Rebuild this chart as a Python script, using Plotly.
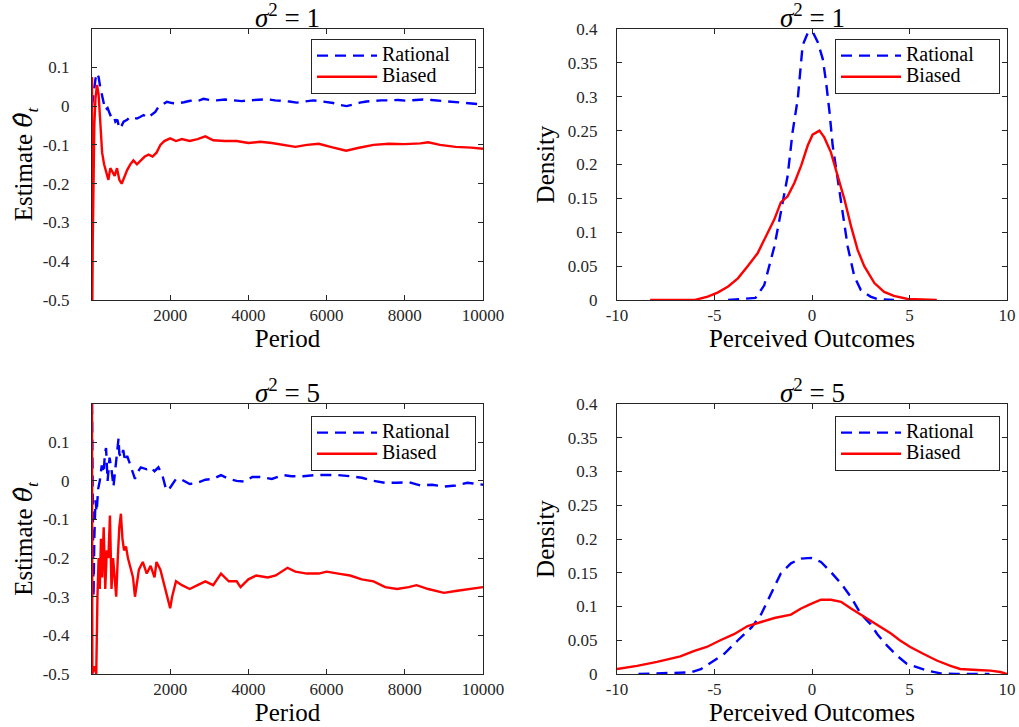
import plotly.graph_objects as go

# ---------------- data ----------------
# Panel 1 (sigma^2 = 1): running estimates
p1_rat_period = [1, 40, 90, 130, 170, 210, 270, 340, 400, 470, 540, 600, 650, 700, 760, 810, 900, 980, 1060,
                 1150, 1230, 1320, 1420, 1530, 1620, 1700, 1800, 1915, 2050, 2170, 2350, 2510, 2680, 2850,
                 3000, 3190, 3400, 3620, 3830, 4040, 4250, 4470, 4680, 4890, 5050, 5230, 5450, 5660, 5830,
                 6000, 6170, 6340, 6510, 6680, 6850, 7020, 7190, 7400, 7620, 7830, 8040, 8250, 8470, 8680,
                 8890, 9150, 9400, 9570, 9740, 9900, 10000]
p1_rat_value = [0.0, 0.03, 0.07, 0.085, 0.075, 0.05, 0.02, -0.01, -0.005, -0.023, -0.02, -0.04, -0.035, -0.058,
                -0.05, -0.04, -0.035, -0.028, -0.03, -0.032, -0.028, -0.023, -0.03, -0.023, -0.015, -0.002,
                0.005, 0.011, 0.008, 0.007, 0.01, 0.014, 0.012, 0.019, 0.016, 0.015, 0.017, 0.015, 0.013,
                0.015, 0.016, 0.018, 0.015, 0.014, 0.012, 0.009, 0.012, 0.015, 0.013, 0.011, 0.008, 0.003,
                0.0, 0.004, 0.009, 0.012, 0.014, 0.015, 0.015, 0.016, 0.014, 0.015, 0.017, 0.016, 0.014,
                0.013, 0.011, 0.009, 0.007, 0.005, 0.003]
p1_bia_period = [1, 10, 20, 40, 60, 90, 130, 170, 210, 260, 310, 360, 420, 470, 530, 580, 640, 700, 760, 830,
                 900, 980, 1060, 1150, 1250, 1350, 1450, 1550, 1650, 1750, 1850, 2000, 2150, 2300, 2500, 2700,
                 2900, 3100, 3400, 3700, 4000, 4300, 4600, 4900, 5200, 5500, 5800, 6100, 6500, 6800, 7200,
                 7600, 8000, 8400, 8600, 8900, 9300, 9700, 10000]
p1_bia_value = [0.075, -0.5, -0.35, -0.2, -0.05, 0.02, 0.055, 0.03, -0.05, -0.12, -0.15, -0.17, -0.19, -0.16,
                -0.17, -0.18, -0.16, -0.19, -0.2, -0.18, -0.165, -0.15, -0.14, -0.15, -0.14, -0.13, -0.125,
                -0.13, -0.12, -0.1, -0.09, -0.083, -0.09, -0.085, -0.09, -0.085, -0.078, -0.088, -0.09,
                -0.09, -0.095, -0.092, -0.095, -0.1, -0.105, -0.1, -0.097, -0.105, -0.115, -0.108, -0.1,
                -0.097, -0.098, -0.096, -0.093, -0.1, -0.105, -0.107, -0.11]

# Panel 3 (sigma^2 = 5): running estimates
p3_rat_period = [1, 20, 40, 60, 90, 120, 160, 200, 250, 300, 330, 360, 400, 450, 500, 550, 600, 650, 680, 700,
                 750, 800, 850, 900, 950, 1000, 1050, 1100, 1150, 1250, 1400, 1500, 1600, 1700, 1800, 1890,
                 1950, 2050, 2150, 2300, 2500, 2700, 2900, 3100, 3300, 3500, 3700, 3900, 4100, 4300, 4600,
                 4900, 5100, 5400, 5700, 6000, 6300, 6600, 6900, 7200, 7500, 7800, 8100, 8400, 8700, 9000,
                 9300, 9600, 10000]
p3_rat_value = [0.2, -0.1, -0.3, -0.15, -0.05, -0.08, -0.02, 0.0, 0.04, 0.02, 0.07, 0.085, 0.0, 0.06, 0.03,
                -0.015, 0.04, 0.08, 0.11, 0.07, 0.06, 0.08, 0.05, 0.065, 0.05, 0.03, 0.02, 0.005, 0.02, 0.035,
                0.03, 0.035, 0.025, 0.035, 0.015, -0.02, -0.025, -0.01, 0.005, 0.003, -0.008, -0.005, 0.003,
                0.005, 0.015, 0.005, 0.0, -0.002, 0.01, 0.01, 0.005, 0.015, 0.012, 0.012, 0.015, 0.015,
                0.015, 0.012, 0.008, 0.0, -0.005, -0.005, -0.003, -0.012, -0.01, -0.015, -0.012, -0.005,
                -0.01]
p3_bia_period = [1, 10, 60, 110, 140, 170, 200, 230, 260, 300, 340, 380, 420, 460, 500, 540, 580, 620, 660,
                 700, 740, 780, 820, 870, 920, 980, 1050, 1100, 1150, 1200, 1300, 1400, 1500, 1600, 1650,
                 1750, 1850, 1950, 2000, 2050, 2150, 2300, 2500, 2700, 2900, 3100, 3300, 3500, 3700, 3800,
                 4000, 4200, 4500, 4700, 5000, 5200, 5500, 5800, 6000, 6300, 6600, 6900, 7200, 7500, 7800,
                 8100, 8300, 8600, 9000, 9300, 9600, 10000]
p3_bia_value = [0.2, -0.5, -0.48, -0.5, -0.3, -0.2, -0.28, -0.15, -0.25, -0.12, -0.28, -0.18, -0.2, -0.09,
                -0.28, -0.2, -0.25, -0.3, -0.2, -0.12, -0.085, -0.15, -0.18, -0.17, -0.2, -0.22, -0.25,
                -0.3, -0.27, -0.23, -0.21, -0.24, -0.22, -0.25, -0.21, -0.23, -0.27, -0.31, -0.33, -0.3,
                -0.26, -0.27, -0.28, -0.27, -0.26, -0.27, -0.24, -0.26, -0.26, -0.275, -0.255, -0.245,
                -0.25, -0.245, -0.225, -0.235, -0.24, -0.24, -0.235, -0.24, -0.245, -0.255, -0.26, -0.275,
                -0.28, -0.275, -0.27, -0.28, -0.29, -0.285, -0.28, -0.275]

# Panel 2 (sigma^2 = 1): densities
p2_rat_x = [-4.3, -2.9, -2.45, -1.93, -1.6, -1.25, -1.0, -0.73, -0.48, -0.22, 0.03, 0.29, 0.55, 0.72, 0.9,
            1.06, 1.32, 1.57, 1.83, 2.17, 2.5, 3.0, 3.35, 4.2]
p2_rat_y = [0.0, 0.003, 0.022, 0.079, 0.129, 0.183, 0.247, 0.297, 0.376, 0.394, 0.396, 0.381, 0.356, 0.322,
            0.277, 0.228, 0.178, 0.129, 0.079, 0.035, 0.015, 0.005, 0.0015, 0.0]
p2_bia_x = [-8.3, -6.0, -5.35, -4.84, -4.3, -3.8, -3.3, -2.79, -2.36, -1.93, -1.6, -1.25, -0.9, -0.56, -0.22,
            0.03, 0.38, 0.63, 0.97, 1.32, 1.66, 2.0, 2.34, 2.68, 3.2, 3.7, 4.2, 4.9, 6.4]
p2_bia_y = [0.0, 0.0, 0.005, 0.011, 0.02, 0.032, 0.05, 0.069, 0.094, 0.119, 0.144, 0.153, 0.173, 0.198,
            0.228, 0.244, 0.25, 0.24, 0.218, 0.183, 0.149, 0.109, 0.074, 0.05, 0.025, 0.012, 0.006, 0.0015,
            0.0]

# Panel 4 (sigma^2 = 5): densities
p4_rat_x = [-8.9, -6.2, -5.7, -5.2, -4.5, -3.8, -3.1, -2.6, -2.1, -1.6, -1.08, -0.56, -0.05, 0.46, 0.97,
            1.49, 2.0, 2.5, 3.0, 3.35, 3.85, 4.36, 4.87, 5.4, 5.9, 6.6, 7.4, 9.1]
p4_rat_y = [0.0, 0.0025, 0.007, 0.017, 0.03, 0.05, 0.069, 0.089, 0.119, 0.149, 0.164, 0.171, 0.172, 0.166,
            0.151, 0.134, 0.114, 0.089, 0.074, 0.059, 0.042, 0.027, 0.015, 0.01, 0.005, 0.001, 0.0, 0.0]
p4_bia_x = [-10.0, -8.97, -7.95, -6.75, -6.07, -5.4, -4.7, -4.0, -3.3, -2.6, -1.93, -1.08, -0.56, -0.05,
            0.46, 0.97, 1.49, 2.0, 2.5, 3.0, 3.5, 4.05, 4.5, 5.04, 5.7, 6.4, 7.1, 7.6, 8.46, 9.15, 9.66, 10.0]
p4_bia_y = [0.0075, 0.012, 0.018, 0.026, 0.034, 0.04, 0.05, 0.059, 0.071, 0.077, 0.083, 0.088, 0.097, 0.104,
            0.11, 0.11, 0.107, 0.097, 0.088, 0.079, 0.069, 0.06, 0.05, 0.04, 0.03, 0.02, 0.012, 0.0075,
            0.006, 0.005, 0.003, 0.0]

titles = ["<i>σ</i><sup>2</sup> = 1", "<i>σ</i><sup>2</sup> = 1", "<i>σ</i><sup>2</sup> = 5", "<i>σ</i><sup>2</sup> = 5"]
series_names = ["Rational", "Biased"]
est_ticks = [-0.5, -0.4, -0.3, -0.2, -0.1, 0, 0.1]
est_ticktext = ["-0.5", "-0.4", "-0.3", "-0.2", "-0.1", "0", "0.1"]
period_ticks = [2000, 4000, 6000, 8000, 10000]
dens_ticks = [0, 0.05, 0.1, 0.15, 0.2, 0.25, 0.3, 0.35, 0.4]
dens_ticktext = ["0", "0.05", "0.1", "0.15", "0.2", "0.25", "0.3", "0.35", "0.4"]
outcome_ticks = [-10, -5, 0, 5, 10]
outcome_ticktext = ["-10", "-5", "0", "5", "10"]

# ---------------- figure ----------------
W, H = 1019, 727
FONT = "Liberation Serif"
BLUE = "#0000FF"
RED = "#FF0000"
LW = 2.4
DASH = "11px,7px"
PAD = "\u00a0" * 4

def px_x(p):
    return p / W

def px_y(p):
    return 1 - p / H

def legend_label(name):
    return "<span style='font-size:20px'>" + name + PAD + "</span>"

fig = go.Figure()

series = [
    (p1_rat_period, p1_rat_value, p1_bia_period, p1_bia_value, "x", "y", "legend"),
    (p2_rat_x, p2_rat_y, p2_bia_x, p2_bia_y, "x2", "y2", "legend2"),
    (p3_rat_period, p3_rat_value, p3_bia_period, p3_bia_value, "x3", "y3", "legend3"),
    (p4_rat_x, p4_rat_y, p4_bia_x, p4_bia_y, "x4", "y4", "legend4"),
]
for rx, ry, bx, by, xa, ya, lg in series:
    fig.add_trace(go.Scatter(x=rx, y=ry, mode="lines", name=legend_label(series_names[0]), xaxis=xa, yaxis=ya,
                             legend=lg, line=dict(color=BLUE, width=LW, dash=DASH)))
    fig.add_trace(go.Scatter(x=bx, y=by, mode="lines", name=legend_label(series_names[1]), xaxis=xa, yaxis=ya,
                             legend=lg, line=dict(color=RED, width=LW)))

left_dom = [px_x(92), px_x(483)]
right_dom = [px_x(617), px_x(1007)]
top_dom = [px_y(300), px_y(29)]
bot_dom = [px_y(674), px_y(404)]

common = dict(showline=True, linecolor="#262626", linewidth=1, mirror="ticks", ticks="inside",
              ticklen=5, tickcolor="#262626", showgrid=False, zeroline=False,
              tickfont=dict(family=FONT, size=17, color="#262626"), automargin=False)
title_font = dict(family=FONT, size=25, color="black")

def xaxis(dom, anchor, rng, tv, tt, title):
    return dict(domain=dom, anchor=anchor, range=rng, tickmode="array", tickvals=tv, ticktext=tt,
                title=dict(text=title, font=title_font, standoff=4), ticklabelstandoff=0, **common)

def yaxis(dom, anchor, rng, tv, tt, title, standoff, lstand):
    return dict(domain=dom, anchor=anchor, range=rng, tickmode="array", tickvals=tv, ticktext=tt,
                title=dict(text=title, font=title_font, standoff=standoff), ticklabelstandoff=lstand,
                **common)

period_tt = [str(v) for v in period_ticks]
est_title = "Estimate <span style='font-family:DejaVu Serif'><i>θ̂</i></span><sub><i>t</i></sub>"

fig.update_layout(
    width=W, height=H,
    margin=dict(l=0, r=0, t=0, b=0),
    paper_bgcolor="white", plot_bgcolor="white",
    font=dict(family=FONT, color="black"),
    xaxis=xaxis(left_dom, "y", [1, 10000], period_ticks, period_tt, "Period"),
    yaxis=yaxis(top_dom, "x", [-0.5, 0.199], est_ticks, est_ticktext, est_title, 2, 18),
    xaxis2=xaxis(right_dom, "y2", [-10, 10], outcome_ticks, outcome_ticktext, "Perceived Outcomes"),
    yaxis2=yaxis(top_dom, "x2", [0, 0.4], dens_ticks, dens_ticktext, "Density", 6, 15),
    xaxis3=xaxis(left_dom, "y3", [1, 10000], period_ticks, period_tt, "Period"),
    yaxis3=yaxis(bot_dom, "x3", [-0.5, 0.199], est_ticks, est_ticktext, est_title, 2, 18),
    xaxis4=xaxis(right_dom, "y4", [-10, 10], outcome_ticks, outcome_ticktext, "Perceived Outcomes"),
    yaxis4=yaxis(bot_dom, "x4", [0, 0.4], dens_ticks, dens_ticktext, "Density", 6, 15),
)

leg_common = dict(xanchor="left", yanchor="top", bgcolor="white", bordercolor="#262626", borderwidth=1,
                  font=dict(family=FONT, size=14, color="black"), itemwidth=60, tracegroupgap=0)
fig.update_layout(
    legend=dict(x=px_x(311), y=px_y(39), **leg_common),
    legend2=dict(x=px_x(835), y=px_y(39), **leg_common),
    legend3=dict(x=px_x(311), y=px_y(416), **leg_common),
    legend4=dict(x=px_x(835), y=px_y(416), **leg_common),
)

title_pos = [((92 + 483) / 2, 16), ((617 + 1007) / 2, 16), ((92 + 483) / 2, 391), ((617 + 1007) / 2, 391)]
for text, (cx, cy) in zip(titles, title_pos):
    fig.add_annotation(text=text, x=px_x(cx), y=px_y(cy), xref="paper", yref="paper", showarrow=False,
                       xanchor="center", yanchor="middle", font=dict(family=FONT, size=27, color="black"))

fig.write_html("out.html", config={"displayModeBar": False},
               post_script="document.body.style.margin='0';document.body.style.overflow='hidden';")
